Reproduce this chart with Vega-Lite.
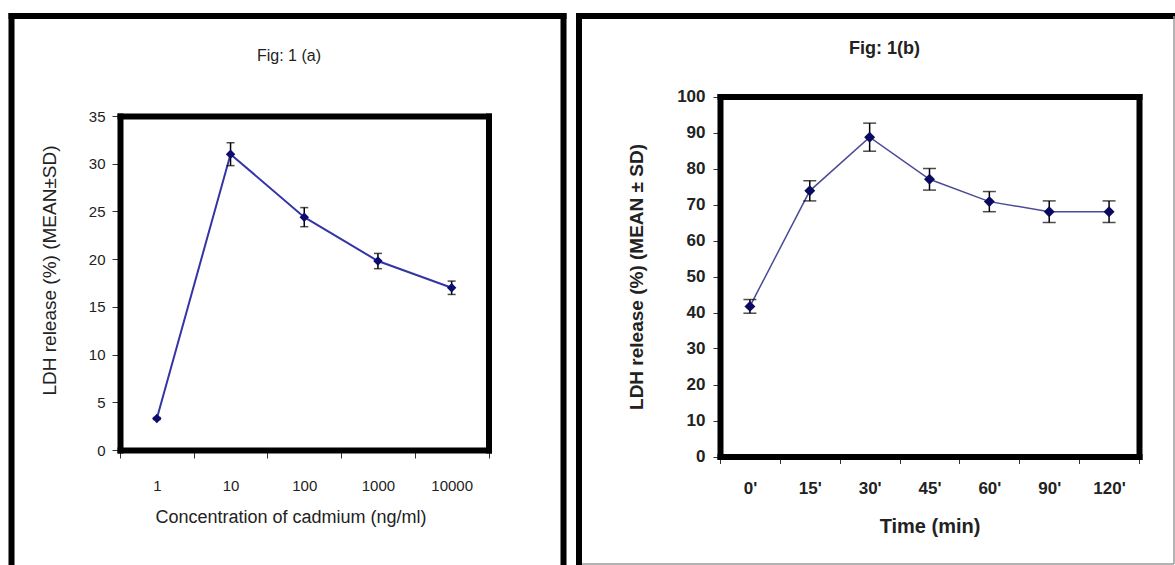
{
  "$schema": "https://vega.github.io/schema/vega-lite/v6.json",
  "width": 1175,
  "height": 565,
  "autosize": "none",
  "padding": 0,
  "background": "white",
  "config": {
    "view": {"stroke": null},
    "axis": {"grid": false, "domainColor": "black", "domainCap": "square", "labelFont": "Liberation Sans", "titleFont": "Liberation Sans", "labelColor": "#222", "titleColor": "#222"}
  },
  "datasets": {
    "a": [
      {"conc": "1", "mean": 3.3, "sd": 0.1},
      {"conc": "10", "mean": 31.0, "sd": 1.2},
      {"conc": "100", "mean": 24.4, "sd": 1.0},
      {"conc": "1000", "mean": 19.8, "sd": 0.8},
      {"conc": "10000", "mean": 17.0, "sd": 0.7}
    ],
    "b": [
      {"time": "0'", "mean": 41.7, "sd": 1.9},
      {"time": "15'", "mean": 73.8, "sd": 2.8},
      {"time": "30'", "mean": 88.7, "sd": 3.9},
      {"time": "45'", "mean": 77.0, "sd": 3.0},
      {"time": "60'", "mean": 70.8, "sd": 2.8},
      {"time": "90'", "mean": 68.0, "sd": 3.0},
      {"time": "120'", "mean": 68.0, "sd": 3.0}
    ]
  },
  "resolve": {"scale": {"x": "independent", "y": "independent"}, "axis": {"x": "independent", "y": "independent"}},
  "layer": [
    {
      "data": {"name": "a"},
      "mark": {"type": "point", "opacity": 0},
      "encoding": {
        "x": {"field": "mean", "type": "quantitative", "scale": {"domain": [0, 1], "range": [11, 563], "nice": false, "zero": false},
          "axis": {"orient": "top", "offset": -15.5, "domainWidth": 6, "ticks": false, "labels": false, "title": "Fig: 1 (a)", "titleX": 288.5, "titleY": 39.5, "titleBaseline": "middle", "titleFontSize": 16, "titleFontWeight": "normal"}},
        "y": {"field": "mean", "type": "quantitative", "scale": {"domain": [0, 1], "range": [700, 15.5], "nice": false, "zero": false},
          "axis": {"orient": "left", "offset": -11, "domainWidth": 6, "ticks": false, "labels": false, "title": null}}
      }
    },
    {
      "data": {"name": "a"},
      "mark": {"type": "point", "opacity": 0},
      "encoding": {
        "x": {"field": "mean", "type": "quantitative", "scale": {"domain": [0, 1], "range": [11, 563], "nice": false, "zero": false}, "axis": null},
        "y": {"field": "mean", "type": "quantitative", "scale": {"domain": [0, 1], "range": [700, 15.5], "nice": false, "zero": false},
          "axis": {"orient": "right", "offset": -612, "domainWidth": 6, "ticks": false, "labels": false, "title": null}}
      }
    },
    {
      "data": {"name": "b"},
      "mark": {"type": "point", "opacity": 0},
      "encoding": {
        "x": {"field": "mean", "type": "quantitative", "scale": {"domain": [0, 1], "range": [578.5, 1173], "nice": false, "zero": false},
          "axis": {"orient": "top", "offset": -15.5, "domainWidth": 6, "ticks": false, "labels": false, "title": "Fig: 1(b)", "titleX": 884, "titleY": 32.5, "titleBaseline": "middle", "titleFontSize": 18, "titleFontWeight": "bold"}},
        "y": {"field": "mean", "type": "quantitative", "scale": {"domain": [0, 1], "range": [700, 15.5], "nice": false, "zero": false},
          "axis": {"orient": "left", "offset": -578.5, "domainWidth": 6, "ticks": false, "labels": false, "title": null}}
      }
    },
    {
      "data": {"name": "b"},
      "mark": {"type": "point", "opacity": 0},
      "encoding": {
        "x": {"field": "mean", "type": "quantitative", "scale": {"domain": [0, 1], "range": [578.5, 1173.5], "nice": false, "zero": false},
          "axis": {"orient": "bottom", "offset": -1.5, "domainWidth": 1.5, "domainColor": "#9a9a9a", "domainCap": "butt", "ticks": false, "labels": false, "title": null}},
        "y": {"field": "mean", "type": "quantitative", "scale": {"domain": [0, 1], "range": [563.5, 15.5], "nice": false, "zero": false},
          "axis": {"orient": "right", "offset": -1.5, "domainWidth": 1.5, "domainColor": "#9a9a9a", "domainCap": "butt", "ticks": false, "labels": false, "title": null}}
      }
    },
    {
      "data": {"name": "a"},
      "mark": {"type": "line", "color": "#3434a6", "strokeWidth": 2},
      "encoding": {
        "x": {"field": "conc", "type": "ordinal", "sort": null, "scale": {"type": "band", "range": [120, 488.5], "paddingInner": 0, "paddingOuter": 0},
          "axis": {"orient": "top", "offset": -116, "domainWidth": 6, "ticks": false, "labels": false, "title": null}},
        "y": {"field": "mean", "type": "quantitative", "scale": {"domain": [0, 35], "range": [450, 116], "nice": false, "zero": false},
          "axis": {"orient": "right", "offset": -686.5, "domainWidth": 6, "ticks": false, "labels": false, "title": null}}
      }
    },
    {
      "data": {"name": "a"},
      "encoding": {
        "x": {"field": "conc", "type": "ordinal", "sort": null, "scale": {"type": "band", "range": [120, 488.5], "paddingInner": 0, "paddingOuter": 0},
          "axis": {"orient": "bottom", "offset": -115, "title": "Concentration of cadmium (ng/ml)", "titleX": 290.5, "titlePadding": 15, "titleFontSize": 18, "titleFontWeight": "normal", "labelAngle": 0, "labelFontSize": 15, "labelPadding": 20, "tickSize": 8, "tickBand": "extent", "tickColor": "#333", "domainWidth": 6}},
        "y": {"field": "mean", "type": "quantitative", "scale": {"domain": [0, 35], "range": [450, 116], "nice": false, "zero": false},
          "axis": {"orient": "left", "offset": -120, "values": [0, 5, 10, 15, 20, 25, 30, 35], "title": "LDH release (%) (MEAN±SD)", "titleFontSize": 19, "titleFontWeight": "normal", "titlePadding": 29, "titleY": 270, "labelFontSize": 15, "labelPadding": 7, "tickSize": 8, "tickColor": "#333", "domainWidth": 6}}
      },
      "layer": [
        {"mark": {"type": "errorbar", "color": "black", "ticks": {"size": 8, "thickness": 1.5}, "rule": {"strokeWidth": 1.5}}, "encoding": {"yError": {"field": "sd"}}},
        {"mark": {"type": "point", "shape": "diamond", "filled": true, "size": 90, "color": "#0c0c70", "opacity": 1}}
      ]
    },
    {
      "data": {"name": "b"},
      "mark": {"type": "line", "color": "#4b4b96", "strokeWidth": 1.5},
      "encoding": {
        "x": {"field": "time", "type": "ordinal", "sort": null, "scale": {"type": "band", "range": [720, 1139], "paddingInner": 0, "paddingOuter": 0},
          "axis": {"orient": "top", "offset": -96.5, "domainWidth": 6, "ticks": false, "labels": false, "title": null}},
        "y": {"field": "mean", "type": "quantitative", "scale": {"domain": [0, 100], "range": [456.5, 96.5], "nice": false, "zero": false},
          "axis": {"orient": "right", "offset": -36, "domainWidth": 6, "ticks": false, "labels": false, "title": null}}
      }
    },
    {
      "data": {"name": "b"},
      "encoding": {
        "x": {"field": "time", "type": "ordinal", "sort": null, "scale": {"type": "band", "range": [720, 1139], "paddingInner": 0, "paddingOuter": 0},
          "axis": {"orient": "bottom", "offset": -108.5, "title": "Time (min)", "titlePadding": 20, "titleFontSize": 20, "titleFontWeight": "bold", "labelAngle": 0, "labelFontSize": 17, "labelFontWeight": "bold", "labelPadding": 17, "tickSize": 7, "tickBand": "extent", "tickColor": "#333", "domainWidth": 6}},
        "y": {"field": "mean", "type": "quantitative", "scale": {"domain": [0, 100], "range": [456.5, 96.5], "nice": false, "zero": false},
          "axis": {"orient": "left", "offset": -720, "values": [0, 10, 20, 30, 40, 50, 60, 70, 80, 90, 100], "title": "LDH release (%) (MEAN ± SD)", "titleFontSize": 19, "titleFontWeight": "bold", "titlePadding": 30, "labelFontSize": 17, "labelFontWeight": "bold", "labelPadding": 8, "tickSize": 7, "tickColor": "#333", "domainWidth": 6}}
      },
      "layer": [
        {"mark": {"type": "errorbar", "color": "black", "ticks": {"size": 13, "thickness": 1.5}, "rule": {"strokeWidth": 1.5}}, "encoding": {"yError": {"field": "sd"}}},
        {"mark": {"type": "point", "shape": "diamond", "filled": true, "size": 120, "color": "#0a0a60", "opacity": 1}}
      ]
    }
  ]
}
